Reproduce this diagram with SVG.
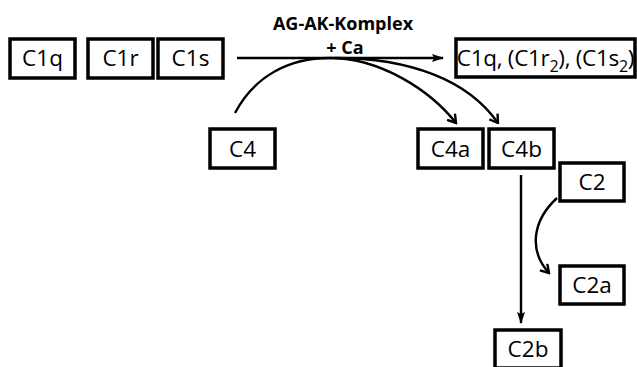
<svg xmlns="http://www.w3.org/2000/svg" width="637" height="367" viewBox="0 0 637 367">
<style>
.box{fill:#fff;stroke:#000;stroke-width:3.5}
.t{font-family:"Open Sans","Noto Sans",sans-serif;font-size:22.5px;fill:#000;text-anchor:middle}
.b{font-family:"Open Sans","Noto Sans",sans-serif;font-size:18px;font-weight:bold;fill:#000;text-anchor:middle}
.c{fill:none;stroke:#000;stroke-width:2.4}
</style>
<defs>
<marker id="ah" viewBox="0 0 12 10" refX="11" refY="5" markerWidth="12" markerHeight="10" markerUnits="userSpaceOnUse" orient="auto">
<path d="M0,1 L12,5 L0,9 L2,5 Z" fill="#000"/>
</marker>
<marker id="av" viewBox="0 0 12 12" refX="10.5" refY="6" markerWidth="12" markerHeight="12" markerUnits="userSpaceOnUse" orient="auto">
<path d="M2.5,1 L10.5,6 L2.5,11" fill="none" stroke="#000" stroke-width="2.4" stroke-linejoin="miter"/>
</marker>
</defs>
<rect width="637" height="367" fill="#fff"/>
<g id="labels">
<text class="b" x="343" y="30">AG-AK-Komplex</text>
<text class="b" x="345" y="54">+ Ca</text>
</g>
<g id="connectors">
<path class="c" d="M237,58 L443,58" marker-end="url(#ah)"/>
<path class="c" d="M235,113 C255,75 290,58 330,58 C380,58 430,90 456,123" marker-end="url(#av)"/>
<path class="c" d="M335,58 C410,58 468,80 498,123" marker-end="url(#av)"/>
<path class="c" d="M521,175 L521,323" marker-end="url(#ah)"/>
<path class="c" d="M557,198 C533,220 528,250 549,273" marker-end="url(#av)"/>
</g>
<g id="n-c1q"><rect class="box" x="10" y="39" width="65" height="39"/><text class="t" x="42.5" y="66">C1q</text></g>
<g id="n-c1r"><rect class="box" x="88" y="39" width="65" height="39"/><text class="t" x="120.5" y="66">C1r</text></g>
<g id="n-c1s"><rect class="box" x="158" y="39" width="65" height="39"/><text class="t" x="190.5" y="66">C1s</text></g>
<g id="n-c1complex"><rect class="box" x="456" y="39" width="179" height="38"/><text class="t" x="545.5" y="66" letter-spacing="-0.3">C1q, (C1r<tspan font-size="16" dy="6">2</tspan><tspan dy="-6">), (C1s</tspan><tspan font-size="16" dy="6">2</tspan><tspan dy="-6">)</tspan></text></g>
<g id="n-c4"><rect class="box" x="210" y="129" width="65" height="39"/><text class="t" x="242.5" y="157">C4</text></g>
<g id="n-c4a"><rect class="box" x="418" y="129" width="65" height="39"/><text class="t" x="450.5" y="157">C4a</text></g>
<g id="n-c4b"><rect class="box" x="489" y="129" width="65" height="39"/><text class="t" x="521.5" y="157">C4b</text></g>
<g id="n-c2"><rect class="box" x="560" y="163" width="64" height="38"/><text class="t" x="592" y="190">C2</text></g>
<g id="n-c2a"><rect class="box" x="560" y="266" width="64" height="38"/><text class="t" x="592" y="293">C2a</text></g>
<g id="n-c2b"><rect class="box" x="495" y="330" width="66" height="38"/><text class="t" x="528" y="357">C2b</text></g>
</svg>
